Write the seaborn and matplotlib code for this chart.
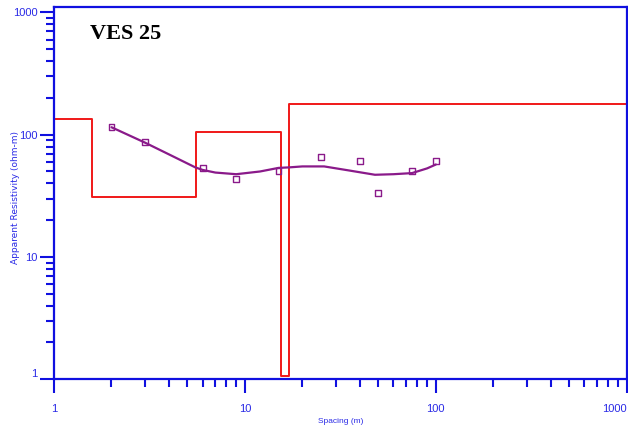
import numpy as np
import pandas as pd
import seaborn as sns
import matplotlib
matplotlib.use("Agg")
import matplotlib.pyplot as plt
from matplotlib.ticker import LogLocator, NullFormatter

# field data (electrode spacing in m, apparent resistivity in ohm-m)
spacing = [2, 3, 6, 9, 15, 25, 40, 50, 75, 100]
rho_obs = [115, 86.5, 53, 43.6, 50.7, 66, 60.7, 33.6, 50.7, 61]

# computed sounding curve
curve_x = [2, 3, 4, 5.5, 6, 7, 9, 12, 15, 17, 20, 26, 35, 48, 60, 75, 90, 100]
curve_y = [115, 86, 69, 54, 51.5, 49, 47.5, 50, 53.5, 54, 55, 55, 51, 47, 47.5, 48.5, 53, 57]

# layered model: layer tops (m) and resistivities
layer_top = [1, 1.58, 5.54, 15.4, 17.0, 1000]
layer_rho = [135, 30.7, 106, 1.06, 179, 179]

xticks = [1, 10, 100, 1000]
yticks = [1, 10, 100, 1000]

blue = "#1010e0"
label_blue = "#2a2ae6"

sns.set_style("ticks")
plt.rcParams["font.family"] = ["DejaVu Sans"]

fig, ax = plt.subplots(figsize=(6.28, 4.30), dpi=100)
fig.subplots_adjust(left=0.086, right=0.998, bottom=0.118, top=0.983)

model_df = pd.DataFrame({"x": layer_top, "y": layer_rho})
sns.lineplot(data=model_df, x="x", y="y", ax=ax, color="#f01818", linewidth=1.4,
             drawstyle="steps-post", estimator=None, sort=False)

curve_df = pd.DataFrame({"x": curve_x, "y": curve_y})
sns.lineplot(data=curve_df, x="x", y="y", ax=ax, color="#8a1a8a", linewidth=1.6,
             estimator=None, sort=False)

obs_df = pd.DataFrame({"x": spacing, "y": rho_obs})
sns.scatterplot(data=obs_df, x="x", y="y", ax=ax, marker="s", s=18,
                facecolor="none", edgecolor="#8a1a8a", linewidth=1.0, zorder=5)

ax.set_xscale("log")
ax.set_yscale("log")
ax.set_xlim(1, 1000)
ax.set_ylim(1, 1100)

ax.set_xticks(xticks, labels=[str(t) for t in xticks])
ax.set_yticks(yticks, labels=[str(t) for t in yticks])
ax.xaxis.set_minor_locator(LogLocator(base=10, subs=np.arange(2, 10)))
ax.yaxis.set_minor_locator(LogLocator(base=10, subs=np.arange(2, 10)))
ax.xaxis.set_minor_formatter(NullFormatter())
ax.yaxis.set_minor_formatter(NullFormatter())

for lab in ax.get_xticklabels() + ax.get_yticklabels():
    lab.set_family("Liberation Sans")
    lab.set_color(label_blue)
    lab.set_fontsize(8)
for lab in ax.get_yticklabels():
    if lab.get_text() == "1":
        lab.set_va("bottom")
for lab in ax.get_xticklabels():
    if lab.get_text() == "1000":
        lab.set_ha("right")

ax.tick_params(axis="both", which="major", direction="out", length=10, width=1.5,
               color=blue)
ax.tick_params(axis="both", which="minor", direction="out", length=5.5, width=1.5,
               color=blue)
ax.tick_params(axis="x", which="major", pad=8)
ax.tick_params(axis="y", which="major", pad=2)

for side in ["left", "bottom", "top", "right"]:
    ax.spines[side].set_visible(True)
    ax.spines[side].set_color(blue)
    ax.spines[side].set_linewidth(1.6)

ax.set_xlabel("Spacing (m)", fontsize=6, color=label_blue, family="Liberation Sans")
ax.set_ylabel("Apparent Resistivity (ohm-m)", fontsize=6.5, color=label_blue)
ax.xaxis.set_label_coords(0.5, -0.105)
ax.yaxis.set_label_coords(-0.059, 0.49)

ax.text(0.063, 0.914, "VES 25", transform=ax.transAxes, fontsize=16,
        fontweight="bold", family="Liberation Serif", va="baseline", color="black")

fig.savefig("out.png", dpi=100)
